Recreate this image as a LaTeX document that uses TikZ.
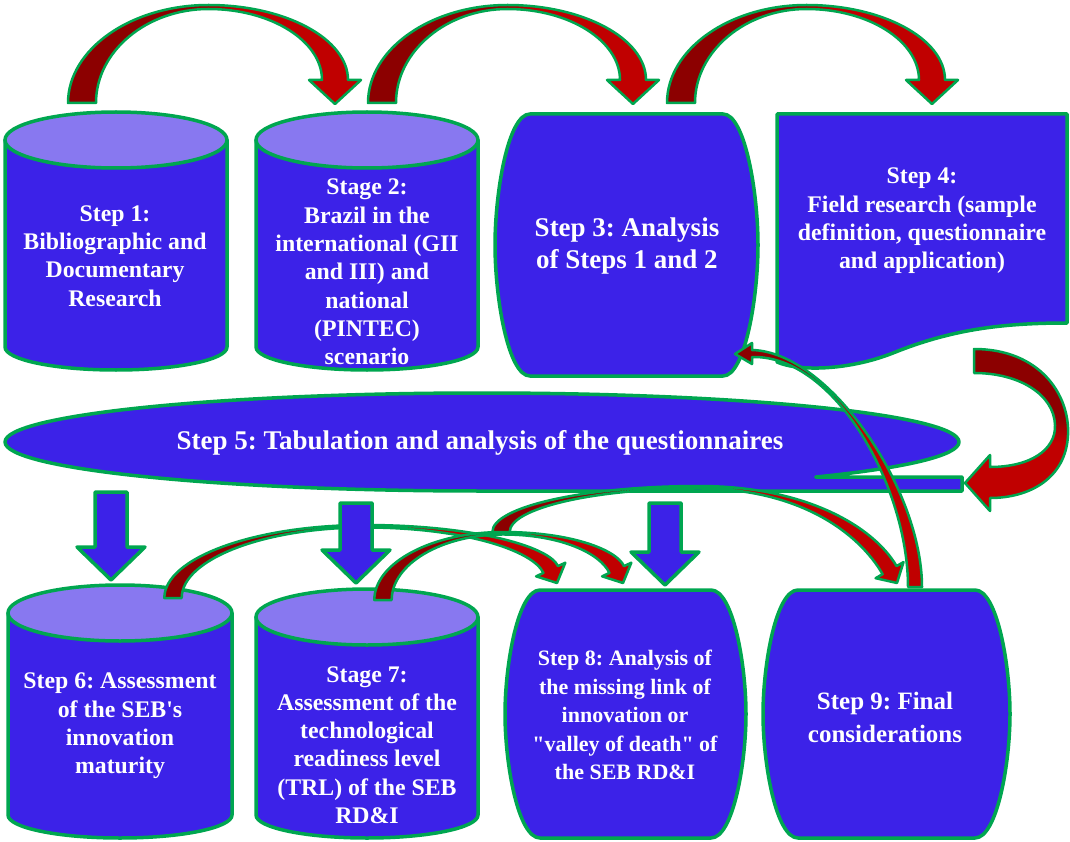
\documentclass[tikz,border=0pt]{standalone}
\usepackage{fontspec}
\setmainfont{Liberation Serif}
\usetikzlibrary{calc}

\definecolor{boxblue}{HTML}{3C22E8}
\definecolor{lidblue}{HTML}{8878F0}
\definecolor{rim}{HTML}{00A650}
\definecolor{hopdark}{HTML}{8C0000}
\definecolor{hopred}{HTML}{C00000}

% dark back face on the left half, bright front face on the right half
\pgfdeclarehorizontalshading{hopshade}{100bp}{color(0bp)=(hopdark); color(46bp)=(hopdark); color(54bp)=(hopred); color(100bp)=(hopred)}

\tikzset{
  box/.style={fill=boxblue, draw=rim, line width=3.5pt, line join=round},
  lid/.style={fill=lidblue, draw=rim, line width=3.5pt},
  hop/.style={shading=hopshade, draw=rim, line width=2.5pt, line join=round},
  steptext/.style={text=white, align=center, inner sep=0pt,
    font=\bfseries\fontsize{23.8}{28.3}\selectfont},
  bigtext/.style={steptext, font=\bfseries\fontsize{27}{32}\selectfont},
}

% cylinder: centre x, lid centre y, end of the sides y, half width
\newcommand{\drum}[4]{%
  \filldraw[box] (#1-#4,-#2) -- (#1-#4,-#3) arc (180:360:#4 and 23) -- (#1+#4,-#2) -- cycle;
  \filldraw[lid] (#1,-#2) ellipse (#4 and 28);}

% box with bulging sides: left, top, right, bottom
\newcommand{\barrel}[4]{%
  \filldraw[box] (#1+35,-#2) -- (#3-35,-#2)
    .. controls (#3-13,-#2) and (#3,{-#2-0.3*(#4-#2)}) .. (#3,{-(#2+#4)/2})
    .. controls (#3,{-#4+0.3*(#4-#2)}) and (#3-13,-#4) .. (#3-35,-#4)
    -- (#1+35,-#4)
    .. controls (#1+13,-#4) and (#1,{-#4+0.3*(#4-#2)}) .. (#1,{-(#2+#4)/2})
    .. controls (#1,{-#2-0.3*(#4-#2)}) and (#1+13,-#2) .. (#1+35,-#2) -- cycle;}

% bent block arrow over the top: foot, tip, rise above the foot, size, heading of the tip
\newcommand{\hoparrow}[5]{%
  \shadedraw[hop] let \p1=(#1), \p2=(#2),
      \n1={(\x1+\x2)/2}, \n2={\y1+#3pt},
      \n4={14pt*#4}, \n5={13pt*#4}, \n6={26pt*#4}, \n7={4pt*#4},
      \n{c}={cos(#5)}, \n{s}={sin(#5)},
      \n{bx}={\x2-24pt*#4*(\n{c})}, \n{by}={\y2-24pt*#4*(\n{s})},
      \n{ox}={\n{bx}-\n5*(\n{s})}, \n{oy}={\n{by}+\n5*(\n{c})},
      \n{ix}={\n{bx}+\n5*(\n{s})}, \n{iy}={\n{by}-\n5*(\n{c})} in
    (\x1-\n4,\y1)
    .. controls (\x1-\n4,{\y1+0.55*#3pt}) and ({\n1-0.55*(\n1-\x1+\n4)},\n2) .. (\n1,\n2)
    .. controls ({\n1+0.55*(\n{ox}-\n1)},\n2)
            and ({\n{ox}-0.55*(\n2-\n{oy})*(\n{c})},{\n{oy}-0.55*(\n2-\n{oy})*(\n{s})}) .. (\n{ox},\n{oy})
    -- ({\n{bx}-\n6*(\n{s})},{\n{by}+\n6*(\n{c})}) -- (\x2,\y2)
    -- ({\n{bx}+\n6*(\n{s})},{\n{by}-\n6*(\n{c})}) -- (\n{ix},\n{iy})
    .. controls ({\n{ix}-0.55*(\n2-\n7-\n{iy})*(\n{c})},{\n{iy}-0.55*(\n2-\n7-\n{iy})*(\n{s})})
            and ({\n1+0.55*(\n{ix}-\n1)},\n2-\n7) .. (\n1,\n2-\n7)
    .. controls ({\n1-0.55*(\n1-\x1-\n4)},\n2-\n7) and (\x1+\n4,{\y1+0.55*(#3pt-\n7)}) .. (\x1+\n4,\y1)
    -- cycle;}

\frenchspacing

\begin{document}
\begin{tikzpicture}[x=1pt, y=1pt]
  \useasboundingbox (0,0) rectangle (1070,-842);

  % upper row
  \drum{116}{140}{347}{111}
  \drum{367}{140}{347}{111}
  \barrel{495}{114}{758}{376}
  \filldraw[box] (777,-114) -- (1067,-114) -- (1067,-323)
    .. controls (1000,-323) and (950,-330) .. (893,-353)
    .. controls (850,-370) and (800,-372) .. (777,-362) -- cycle;

  % tabulation band with its tail
  \filldraw[box] (482,-491) arc (270:-45.6:477 and 49) -- (962,-477) -- (962,-491) -- cycle;

  % lower row
  \drum{120}{613}{815}{112}
  \drum{367}{617}{815}{111}
  \barrel{505}{590}{746}{838}
  \barrel{763}{590}{1010}{838}

  \node[steptext] (s1) at (115,-256) {Step 1:\\Bibliographic and\\Documentary\\Research};
  \node[steptext] (s2) at (367,-272) {Stage 2:\\Brazil in the\\international (GII\\and III) and\\national\\(PINTEC)\\scenario};
  \node[bigtext] (s3) at (627,-246) {Step 3: Analysis\\of Steps 1 and 2};
  \node[steptext] (s4) at (922,-221) {Step 4:\\Field research (sample\\definition, questionnaire\\and application)};
  \node[bigtext] (s5) at (480,-443) {Step 5: Tabulation and analysis of the questionnaires};
  \node[steptext] (s6) at (120,-726) {Step 6: Assessment\\of the SEB\textquotesingle s\\innovation\\maturity};
  \node[steptext] (s7) at (367,-745) {Stage 7:\\Assessment of the\\technological\\readiness level\\(TRL) of the SEB\\RD\&I};
  \node[steptext, font=\bfseries\fontsize{22}{28.5}\selectfont] (s8) at (625,-715)
    {Step 8: Analysis of\\the missing link of\\innovation or\\\textquotedbl valley of death\textquotedbl{} of\\the SEB RD\&I};
  \node[steptext, font=\bfseries\fontsize{25}{33}\selectfont] (s9) at (885,-717) {Step 9: Final\\considerations};

  % where the connectors start and end
  \coordinate (s1 out) at (82,-103);
  \coordinate (s2 in) at (335,-104);
  \coordinate (s2 out) at (382,-103);
  \coordinate (s3 in) at (633,-104);
  \coordinate (s3 out) at (681,-103);
  \coordinate (s4 in) at (932,-104);
  \coordinate (s4 out) at (974,-349);
  \coordinate (s5 in) at (965,-483);
  \coordinate (s3 back) at (735,-354);
  \coordinate (s6 out) at (173,-598);
  \coordinate (s7 out) at (383,-600);
  \coordinate (s8 in) at (557,-583);
  \coordinate (s8 in2) at (623,-583);
  \coordinate (s8 out) at (501,-532);
  \coordinate (s9 in) at (897,-583);
  \coordinate (s9 out) at (915,-587);
  \coordinate (s5 to6) at (111,-492);
  \coordinate (s6 in) at (111,-580);
  \coordinate (s5 to7) at (356,-503);
  \coordinate (s7 in) at (356,-583);
  \coordinate (s5 to8) at (665,-503);
  \coordinate (s8 top) at (665,-585);

  % bent arrows
  \hoparrow{s1 out}{s2 in}{98}{1}{-90}
  \hoparrow{s2 out}{s3 in}{98}{1}{-90}
  \hoparrow{s3 out}{s4 in}{98}{1}{-90}
  \hoparrow{s6 out}{s8 in}{73}{0.62}{-65}
  \hoparrow{s7 out}{s8 in2}{68}{0.62}{-65}
  \hoparrow{s8 out}{s9 in}{46}{0.62}{-60}

  \shadedraw[hop, shading angle=-90] let \p1=(s4 out), \p2=(s5 in) in
    (\x1,\y1) .. controls (\x1+66pt,\y1) and (\x1+96pt,\y1-46pt) .. (\x1+94pt,\y1-86pt)
    .. controls (\x1+92pt,\y1-129pt) and (\x2+65pt,\y2-15pt) .. (\x2+25pt,\y2-15pt)
    -- (\x2+25pt,\y2-28pt) -- (\x2,\y2) -- (\x2+25pt,\y2+28pt) -- (\x2+25pt,\y2+16pt)
    .. controls (\x2+65pt,\y2+16pt) and (\x1+82pt,\y1-101pt) .. (\x1+81pt,\y1-76pt)
    .. controls (\x1+80pt,\y1-46pt) and (\x1+46pt,\y1-24pt) .. (\x1,\y1-24pt) -- cycle;

  \shadedraw[hop] let \p1=(s9 out), \p2=(s3 back) in
    (\x1+7pt,\y1) .. controls (\x1+7pt,\y1+97pt) and (\x2+95pt,\y2+2pt) .. (\x2+17pt,\y2+4pt)
    -- (\x2+17pt,\y2+11pt) -- (\x2,\y2) -- (\x2+17pt,\y2-10pt) -- (\x2+17pt,\y2-3pt)
    .. controls (\x2+100pt,\y2-1pt) and (\x1-7pt,\y1+100pt) .. (\x1-7pt,\y1) -- cycle;

  % straight block arrows out of the tabulation band
  \foreach \a/\b in {s5 to6/s6 in, s5 to7/s7 in, s5 to8/s8 top}
    \filldraw[box] let \p1=(\a), \p2=(\b) in
      (\x1-16pt,\y1) -- (\x1+16pt,\y1) -- (\x1+16pt,\y2+33pt) -- (\x1+34pt,\y2+33pt)
      -- (\x2,\y2) -- (\x1-34pt,\y2+33pt) -- (\x1-16pt,\y2+33pt) -- cycle;
\end{tikzpicture}
\end{document}
